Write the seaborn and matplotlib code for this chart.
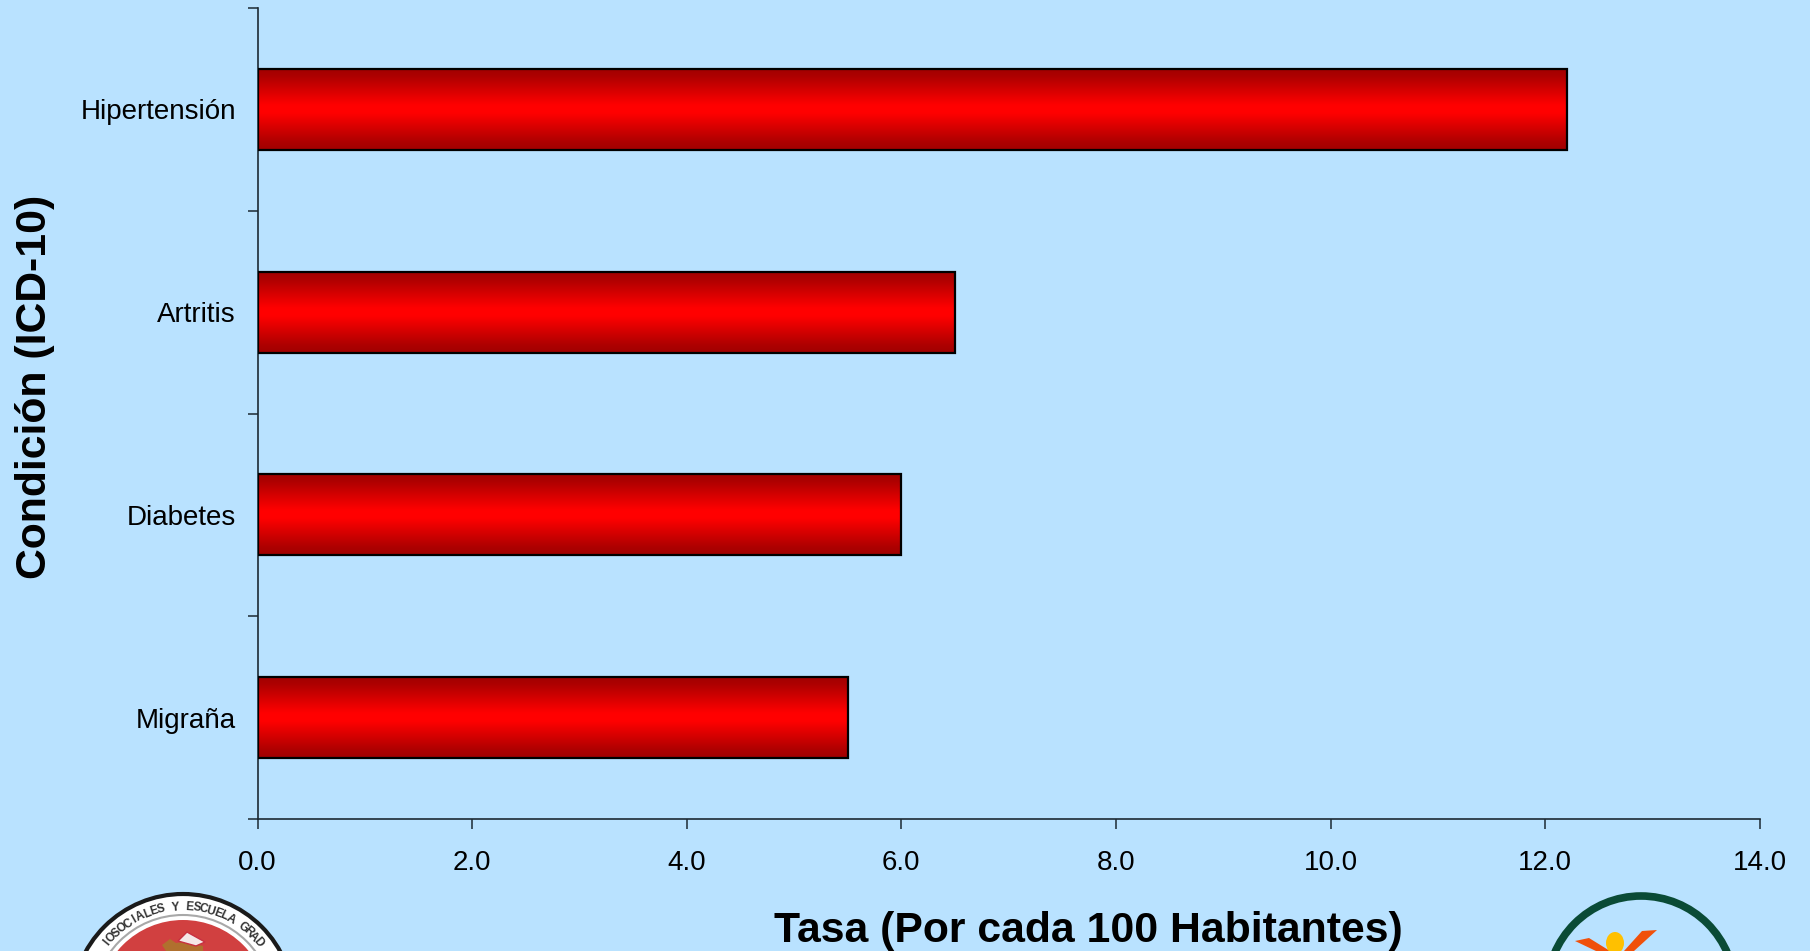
import numpy as np
import pandas as pd
import matplotlib.pyplot as plt
from matplotlib.colors import LinearSegmentedColormap
from matplotlib.patches import Circle, Ellipse, Polygon
import seaborn as sns

condiciones = ["Hipertensión", "Artritis", "Diabetes", "Migraña"]
tasas = [12.2, 6.5, 6.0, 5.5]
xticks = [0, 2, 4, 6, 8, 10, 12, 14]
sello = "IOSOCIALES Y ESCUELA GRAD"

BG = "#B9E2FF"
sns.set_theme(style="white")
plt.rcParams["font.family"] = ["Liberation Sans", "DejaVu Sans"]

df = pd.DataFrame({"Condicion": condiciones, "Tasa": tasas})

fig = plt.figure(figsize=(18.1, 9.51), dpi=100, facecolor=BG)
ax = fig.add_axes([257.5 / 1810, 132 / 951, 1502.2 / 1810, 811 / 951], facecolor="none", zorder=2)

sns.barplot(data=df, x="Tasa", y="Condicion", orient="h", width=0.4, ax=ax,
            facecolor="none", edgecolor="black", linewidth=1.6, zorder=4)

ax.set_xlim(0, 14)
ax.set_ylim(3.5, -0.5)

# relleno degradado de cada barra, recortado a la barra
cmap = LinearSegmentedColormap.from_list(
    "rojo", [(0, "#A00000"), (0.1, "#AE0000"), (0.45, "#FF0000"), (0.55, "#FF0000"), (0.9, "#AE0000"), (1, "#A00000")])
grad = np.linspace(0, 1, 256).reshape(-1, 1)
for bar in ax.patches:
    x0, y0, w, h = bar.get_x(), bar.get_y(), bar.get_width(), bar.get_height()
    im = ax.imshow(grad, cmap=cmap, aspect="auto", zorder=3, extent=(x0, x0 + w, y0 + h, y0))
    im.set_clip_path(bar)
ax.set_xlim(0, 14)
ax.set_ylim(3.5, -0.5)

sns.despine(ax=ax)
for s in ["left", "bottom"]:
    ax.spines[s].set_linewidth(1.2)
    ax.spines[s].set_color("#1c2a33")

ax.set_xticks(xticks)
ax.set_xticklabels([f"{v:.1f}" for v in xticks], fontsize=20, color="black")
ax.set_yticks(range(len(condiciones)))
ax.set_yticklabels(condiciones, fontsize=20, color="black")
ax.set_yticks(np.arange(-0.5, 4, 1), minor=True)
ax.tick_params(axis="y", which="major", length=0, pad=15.5)
ax.tick_params(axis="y", which="minor", length=7, width=1.1, color="#1c2a33", left=True)
ax.tick_params(axis="x", which="major", length=7, width=1.1, color="#1c2a33", pad=15.5, bottom=True)
ax.set_xlabel("")
ax.set_ylabel("")

fig.text(1088 / 1810, 1 - 931 / 951, "Tasa (Por cada 100 Habitantes)", fontsize=30.8,
         fontweight="bold", ha="center", va="center", color="black")
fig.text(35 / 1810, 1 - 387 / 951, "Condición (ICD-10)", fontsize=30.8, fontweight="bold",
         rotation=90, ha="center", va="center", color="black")

# logos al pie, en pixeles de la figura
logos = fig.add_axes([0, 0, 1, 1], facecolor="none", zorder=1)
logos.set_xlim(0, 1810)
logos.set_ylim(951, 0)
logos.axis("off")

cx, cy = 183, 1005
logos.add_patch(Circle((cx, cy), 111, fc="white", ec="#1a1a1a", lw=3))
logos.add_patch(Circle((cx, cy), 90, fc="white", ec="#a8a8a8", lw=1.5))
logos.add_patch(Circle((cx, cy), 85, fc="#D14040", ec="none"))
logos.add_patch(Polygon([[162, 945], [170, 939], [176, 943], [183, 942], [203, 946], [203, 951], [166, 951]],
                        fc="#B0702E", ec="none"))
logos.add_patch(Polygon([[178, 941], [187, 932], [205, 942], [196, 946]], fc="#F4E8E8", ec="#C83040", lw=1))
paso = np.deg2rad(4.2)
centro = sello.index("Y")
for i, letra in enumerate(sello):
    ang = (i - centro) * paso - np.deg2rad(4.6)
    logos.text(cx + 98 * np.sin(ang), cy - 98 * np.cos(ang), letra, fontsize=8.5, fontweight="bold",
               rotation=-np.rad2deg(ang), rotation_mode="anchor", ha="center", va="center", color="#333333")

logos.add_patch(Circle((1641, 990), 94, fc="none", ec="#0A4B36", lw=5.5))
logos.add_patch(Polygon([[1575, 941], [1589, 938], [1610, 951], [1596, 951]], fc="#F0500A", ec="none"))
logos.add_patch(Polygon([[1642, 931], [1657, 930], [1634, 951], [1624, 951]], fc="#F0500A", ec="none"))
logos.add_patch(Ellipse((1615, 943), 18, 22, fc="#FFC000", ec="none"))

fig.savefig("out.png", dpi=100, facecolor=BG)
